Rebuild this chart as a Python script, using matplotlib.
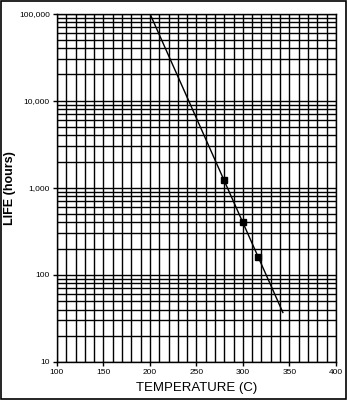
import numpy as np
import matplotlib.pyplot as plt
from matplotlib.ticker import FixedLocator, FuncFormatter, LogLocator, NullFormatter

# fitted life line and measured points
line_temp = [200, 343]
line_life = [100000, 37]
point_temp = [280, 300, 316]
point_life = [1230, 405, 162]

x_ticks = [100, 150, 200, 250, 300, 350, 400]
y_ticks = [10, 100, 1000, 10000, 100000]

plt.rcParams['font.family'] = ['Liberation Sans', 'DejaVu Sans']

fig = plt.figure(figsize=(3.47, 4.0), dpi=100)
ax = fig.add_axes([0.164, 0.095, 0.804, 0.871])

ax.set_yscale('log')
ax.set_xlim(100, 400)
ax.set_ylim(10, 100000)

ax.xaxis.set_major_locator(FixedLocator(x_ticks))
ax.xaxis.set_minor_locator(FixedLocator(list(range(100, 401, 10))))
ax.yaxis.set_major_locator(FixedLocator(y_ticks))
ax.yaxis.set_minor_locator(LogLocator(base=10, subs=np.arange(2, 10)))
ax.yaxis.set_minor_formatter(NullFormatter())
ax.yaxis.set_major_formatter(FuncFormatter(lambda v, p: '{:,.0f}'.format(v)))

ax.grid(True, which='both', color='black', linewidth=1.0)
ax.set_axisbelow(True)

ax.plot(line_temp, line_life, color='black', linewidth=1.0)
ax.plot(point_temp, point_life, linestyle='none', marker='s',
        markersize=4, color='black')

ax.tick_params(which='major', direction='out', length=3, width=1,
               labelsize=6, pad=2)
ax.tick_params(which='minor', length=0)
for s in ax.spines.values():
    s.set_linewidth(1.0)

ax.set_xlabel('TEMPERATURE (C)', fontsize=9.5, labelpad=4)
ax.set_ylabel('LIFE (hours)', fontsize=9, fontweight='bold')
ax.yaxis.set_label_coords(-0.145, 0.5)

# outer frame around the whole picture
fig.patches.append(plt.Rectangle((0.0015, 0.0015), 0.997, 0.997,
                                 transform=fig.transFigure, fill=False,
                                 edgecolor='black', linewidth=1.2))

fig.savefig('out.png', dpi=100)
